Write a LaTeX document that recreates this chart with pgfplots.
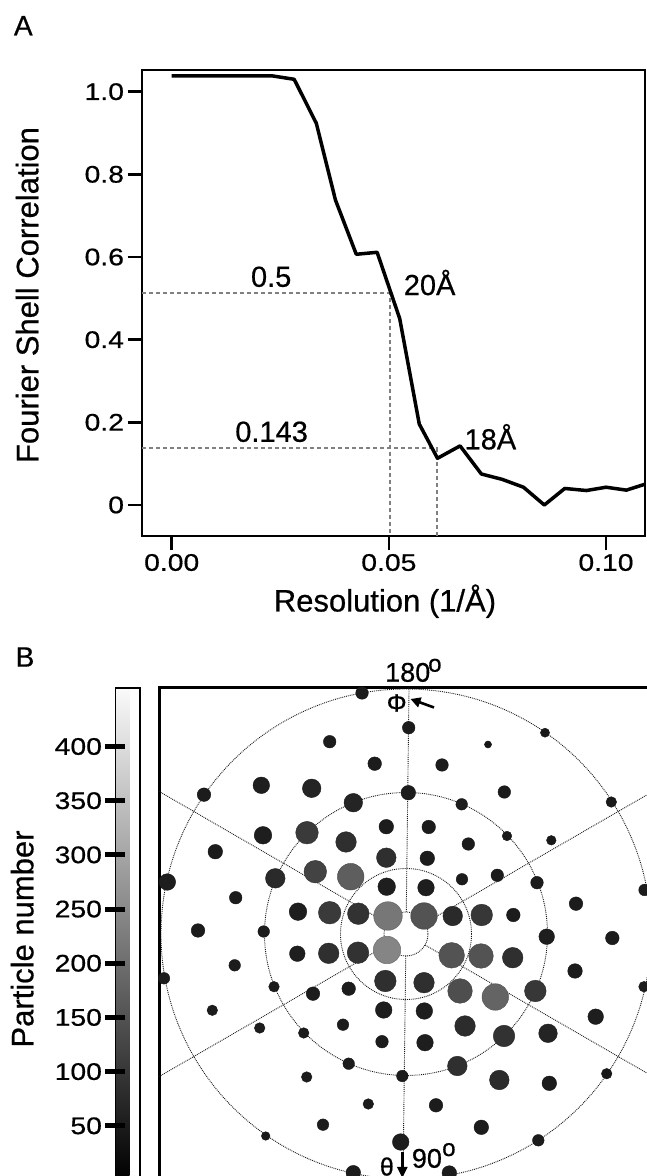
\documentclass[border=0pt]{standalone}
\usepackage{fontspec}
\setmainfont{Liberation Sans}[FakeBold=0.6]
\newfontfamily\tickfont{Liberation Sans}[FakeStretch=1.18,FakeBold=0.6]
\usepackage{pgfplots}
\pgfplotsset{compat=1.18}
\usetikzlibrary{arrows.meta}
\pgfplotsset{/pgf/number format/assume math mode=true}
\begin{document}
\begin{tikzpicture}
% ---------------- Panel A ----------------
\begin{axis}[
  at={(142pt,640pt)}, anchor=south west, scale only axis,
  width=503pt, height=466pt,
  xmin=-0.00684, xmax=0.10898, ymin=-0.075, ymax=1.0525,
  axis line style={line width=2.5pt},
  xtick={0,0.05,0.1}, xticklabels={0.00,0.05,0.10},
  ytick={0,0.2,0.4,0.6,0.8,1.0}, yticklabels={0,0.2,0.4,0.6,0.8,1.0},
  tick align=outside, tick pos=left,
  major tick length=14.5pt,
  tick style={line width=2.5pt, black},
  tick label style={font=\tickfont\fontsize{24}{26}\selectfont},
  clip=true,
]
\addplot[gray, line width=2pt, dash pattern=on 4pt off 3pt, forget plot]
  coordinates {(-0.01,0.512) (0.0503,0.512) (0.0503,-0.1)};
\addplot[gray, line width=2pt, dash pattern=on 4pt off 3pt, forget plot]
  coordinates {(-0.01,0.138) (0.0610,0.138) (0.0610,-0.1)};
\addplot[black, line width=3.5pt, line join=round] coordinates {
(0,1.038) (0.0233,1.038) (0.0282,1.030) (0.0333,0.9235) (0.0377,0.738)
(0.0425,0.6066) (0.0473,0.6114) (0.0525,0.451) (0.057,0.196) (0.0612,0.113)
(0.0664,0.143) (0.0713,0.075) (0.0761,0.062) (0.081,0.043) (0.0858,0.0)
(0.0905,0.040) (0.0955,0.035) (0.10,0.043) (0.1047,0.036) (0.1092,0.051)
};
\node[anchor=base, inner sep=0, font=\fontsize{29}{30}\selectfont] at (axis cs:0.0229,0.528) {0.5};
\node[anchor=base west, inner sep=0, font=\fontsize{29}{30}\selectfont] at (axis cs:0.0534,0.508) {20Å};
\node[anchor=base, inner sep=0, font=\fontsize{29}{30}\selectfont] at (axis cs:0.023,0.153) {0.143};
\node[anchor=base west, inner sep=0, font=\fontsize{29}{30}\selectfont] at (axis cs:0.0674,0.1347) {18Å};
\end{axis}

% ---------------- Panel B ----------------
\begin{axis}[
  at={(159pt,-4pt)}, anchor=south west, scale only axis,
  width=494pt, height=492pt,
  xmin=-247, xmax=247, ymin=-246, ymax=246,
  axis line style={line width=3pt},
  xtick=\empty, ytick=\empty,
  colormap={bw}{gray(0cm)=(0); gray(1cm)=(0.98)},
  point meta min=0, point meta max=454,
  colorbar left,
  colorbar style={
    at={(parent axis.north west)}, anchor=north east, xshift=-10.5pt,
    width=24.5pt,
    ytick={50,100,150,200,250,300,350,400},
    ytick pos=left, yticklabel pos=left,
    major tick length=20pt, tick align=center,
    ytick style={line width=5pt, black},
    yticklabel style={font=\tickfont\fontsize{24}{26}\selectfont},
    axis line style={line width=1.2pt},
  },
  clip=true,
]
\draw[densely dotted, line width=0.9pt, black!90] (axis cs:0,0) circle[radius=22pt];
\draw[densely dotted, line width=0.9pt, black!90] (axis cs:0,0) circle[radius=65.5pt];
\draw[densely dotted, line width=0.9pt, black!90] (axis cs:0,0) circle[radius=141.5pt];
\draw[densely dotted, line width=0.9pt, black!90] (axis cs:0,0) circle[radius=245pt];
\addplot[densely dotted, line width=0.9pt, black!90, forget plot] coordinates {(19.05,11) (346.4,200)};
\addplot[densely dotted, line width=0.9pt, black!90, forget plot] coordinates {(-19.05,11) (-346.4,200)};
\addplot[densely dotted, line width=0.9pt, black!90, forget plot] coordinates {(-19.05,-11) (-346.4,-200)};
\addplot[densely dotted, line width=0.9pt, black!90, forget plot] coordinates {(19.05,-11) (346.4,-200)};
\addplot[densely dotted, line width=0.9pt, black!90, forget plot] coordinates {(0.27,22) (4.9,400)};
\addplot[densely dotted, line width=0.9pt, black!90, forget plot] coordinates {(-0.27,-22) (-4.9,-400)};
\addplot[scatter, only marks, mark=*, point meta=explicit,
  visualization depends on={\thisrow{d}/2-0.2 \as \rad},
  scatter/@pre marker code/.append style={/tikz/mark size=\rad pt}]
  table[x=x, y=y, meta=v] {
x y d v
-44 241 13 50
2.7 206.3 13 50
-76.3 192.3 13 50
-31.3 170.3 14 50
-144.7 148.7 17 55
-94.3 145.7 19 65
-202 139.3 14 50
2.3 141.3 15 50
-52.7 131.3 19 65
-19.7 107.3 15 50
-143 98.7 18 55
-99 101.3 23 105
-60 92 21 85
-190.7 82.3 15 50
-19.7 76.3 20 85
-238.7 52 17 55
-130.7 55.7 20 75
-90.7 62.3 23 120
-55.3 57.3 27 170
-19.3 47.3 18 55
-170.3 36.3 13 50
-108 22.3 18 55
-76.3 21.3 23 105
-47.7 20.3 22 90
-18 18 29 215
-208 3.5 14 50
-142.3 2.5 12 50
82 189.5 7.5 40
36 169 13 50
139 201.3 9.5 45
98.3 142 13 50
55.7 129.7 12 50
205.3 132 11 45
22.7 107 14 50
62.3 90 13 50
101 98 10 45
145.3 93.7 10 45
21.3 75.7 15 50
56 54.7 12 50
91.3 58.7 13 50
131 51.3 13 50
238.5 44 12 50
20 46.3 17 55
170 30.3 14 50
18 18 27 150
46.7 18 20 75
75.7 19 22 100
107.3 19 14 50
140.7 -2.7 16 55
206.3 -4 14 50
-108.7 -19.7 16 55
-77.3 -19.3 21 85
-48 -18.7 22 90
-19 -16 28 240
-171.3 -31.3 12 50
-242 -44.3 12 50
-132 -52.7 11 50
-93 -59.7 14 50
-57.3 -54.7 14 50
-20.7 -47 22 85
-193.7 -76.3 11 50
-146.3 -94 11 50
-102.3 -99 11 50
-63 -90.7 12 50
-22.3 -76 17 55
-24 -107.7 13 50
-57.3 -129.7 12 50
-3.7 -142 12 50
-99.3 -143 11 50
-37.7 -170 11 50
-83 -190.7 12 50
-140.3 -202 9 45
-5.3 -208 17 55
-52.7 -238.7 15 50
18 -48.7 21 85
45.7 -21.3 26 150
75 -22 25 150
106.7 -23.7 21 85
54 -57 25 140
89.3 -63 27 180
129.3 -57 22 100
169 -37 15 50
238 -52.7 11 50
18.3 -77 17 55
189.7 -82.7 16 55
59 -92 21 80
98 -102 22 90
142 -99.3 19 65
19 -108.7 17 55
51.3 -132 20 85
93.3 -146 20 80
143.3 -149.3 15 50
200.7 -139.7 11 45
30 -171.3 14 50
75.3 -193.3 15 50
132.3 -206.3 12 50
43.3 -239 15 50
};
\end{axis}

% ---------------- Texts ----------------
\node[inner sep=0, font=\fontsize{28}{30}\selectfont] at (23.3pt,1150.3pt) {A};
\node[inner sep=0, font=\fontsize{28}{30}\selectfont] at (25pt,519pt) {B};
\node[rotate=90, anchor=base, inner sep=0, font=\fontsize{31}{32}\selectfont] at (38.3pt,881pt) {Fourier Shell Correlation};
\node[anchor=base, inner sep=0, font=\fontsize{31}{32}\selectfont] at (385pt,564.5pt) {Resolution (1/Å)};
\node[rotate=90, anchor=base, inner sep=0, font=\fontsize{31}{32}\selectfont] at (33.3pt,237pt) {Particle number};
\node[anchor=base west, inner sep=0, font=\fontsize{27}{28}\selectfont] at (385pt,494.3pt) {180};
\node[anchor=base west, inner sep=0, font=\fontsize{24}{25}\selectfont] at (428pt,504.3pt) {o};
\node[inner sep=0, font=\fontsize{25}{26}\selectfont] at (396.7pt,473pt) {Φ};
\draw[line width=2.6pt, -{Triangle[length=10pt,width=10pt]}] (434pt,468.5pt) -- (410.5pt,477pt);
\node[anchor=base west, inner sep=0, font=\fontsize{25}{26}\selectfont] at (379.7pt,0.5pt) {θ};
\draw[line width=2.4pt, -{Triangle[length=11pt,width=10pt]}] (402.3pt,24pt) -- (402.3pt,-2pt);
\node[anchor=base west, inner sep=0, font=\fontsize{27}{28}\selectfont] at (411.7pt,8.3pt) {90};
\node[anchor=base west, inner sep=0, font=\fontsize{24}{25}\selectfont] at (442pt,20pt) {o};

\pgfresetboundingbox
\path[use as bounding box] (0pt,0pt) rectangle (647pt,1176pt);
\end{tikzpicture}
\end{document}
